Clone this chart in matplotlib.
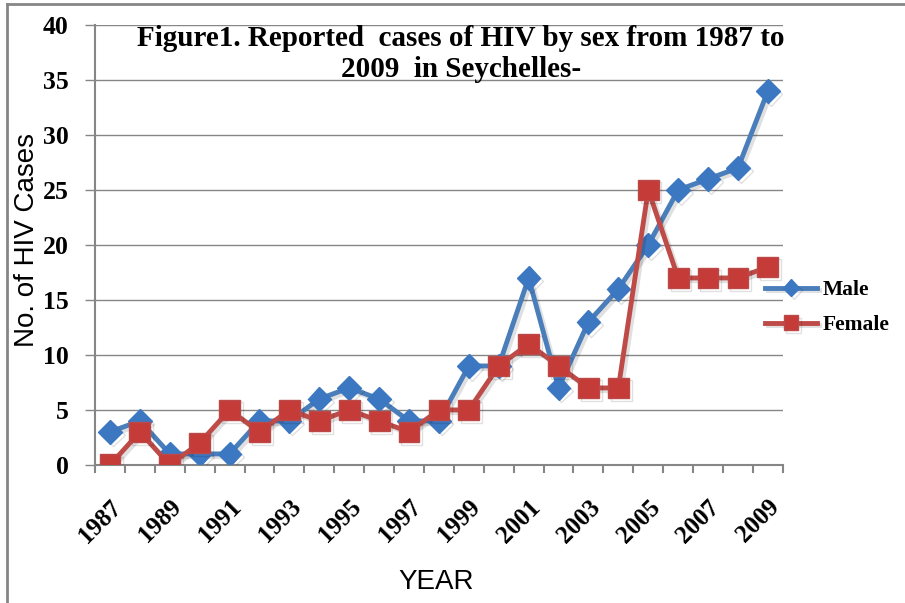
import matplotlib.pyplot as plt
import matplotlib.patheffects as pe
from matplotlib.lines import Line2D

years = list(range(1987, 2010))
male = [3, 4, 1, 1, 1, 4, 4, 6, 7, 6, 4, 4, 9, 9, 17, 7, 13, 16, 20, 25, 26, 27, 34]
female = [0, 3, 0, 2, 5, 3, 5, 4, 5, 4, 3, 5, 5, 9, 11, 9, 7, 7, 25, 17, 17, 17, 18]

serif = 'Liberation Serif'
sans = 'Liberation Sans'
grey = '#868686'

fig = plt.figure(figsize=(9.05, 6.03), dpi=100)
ax = fig.add_axes([0.105, 0.229, 0.760, 0.7295])

x = list(range(len(years)))
shadow = [pe.SimpleLineShadow(offset=(2, -2), alpha=0.12), pe.Normal()]
ax.plot(x, male, color='#4A7EBB', lw=3.5, marker='D', ms=12,
        mfc='#3C77C2', mec='#3C77C2', label='Male', path_effects=shadow, zorder=3)
ax.plot(x, female, color='#BE4B48', lw=3.5, marker='s', ms=15,
        mfc='#C53B38', mec='#B94A48', label='Female', path_effects=shadow, zorder=4)

ax.set_xlim(-0.5, len(years) - 0.5)
ax.set_ylim(0, 40)
ax.set_yticks(range(0, 41, 5))
ax.yaxis.grid(True, color=grey, lw=1)
ax.set_axisbelow(True)
for s in ['top', 'right']:
    ax.spines[s].set_visible(False)
for s in ['left', 'bottom']:
    ax.spines[s].set_color(grey)
    ax.spines[s].set_linewidth(1.5)

ax.set_xticks(x[::2])
ax.set_xticklabels([str(y) for y in years[::2]])
ax.set_xticks([i - 0.5 for i in range(len(years) + 1)], minor=True)
ax.tick_params(axis='x', which='major', length=0, pad=22)
ax.tick_params(axis='x', which='minor', length=6, color=grey, width=1.5)
ax.tick_params(axis='y', length=7, color=grey, width=1, pad=12)
for t in ax.get_xticklabels():
    t.set_rotation(45)
    t.set_ha('right')
    t.set_rotation_mode('anchor')
    t.set_fontfamily(serif)
    t.set_fontweight('bold')
    t.set_fontsize(18)
for t in ax.get_yticklabels():
    t.set_fontfamily(serif)
    t.set_fontweight('bold')
    t.set_fontsize(18.5)

fig.text(27 / 905, 1 - 240 / 603, 'No. of HIV Cases', rotation=90, ha='center', va='center',
         fontfamily=sans, fontsize=20)
fig.text(436 / 905, 1 - 582 / 603, 'YEAR', ha='center', va='center',
         fontfamily=sans, fontsize=20)
fig.text(461 / 905, 1 - 54 / 603, 'Figure1. Reported  cases of HIV by sex from 1987 to\n2009  in Seychelles-',
         ha='center', va='center', fontfamily=serif, fontweight='bold', fontsize=21,
         linespacing=1.2)

ax.legend(loc='upper left', bbox_to_anchor=(765 / 905, 1 - 280 / 603), bbox_transform=fig.transFigure,
          frameon=False, borderpad=0, borderaxespad=0, handlelength=2.4, labelspacing=0.7,
          markerscale=0.7, handletextpad=0.3,
          prop={'family': serif, 'weight': 'bold', 'size': 15.5})

fig.add_artist(Line2D([7 / 905, 7 / 905], [0, 1 - 4 / 603], color=grey, lw=2))
fig.add_artist(Line2D([7 / 905, 1], [1 - 4 / 603, 1 - 4 / 603], color=grey, lw=2))

fig.savefig('out.png', dpi=100)
